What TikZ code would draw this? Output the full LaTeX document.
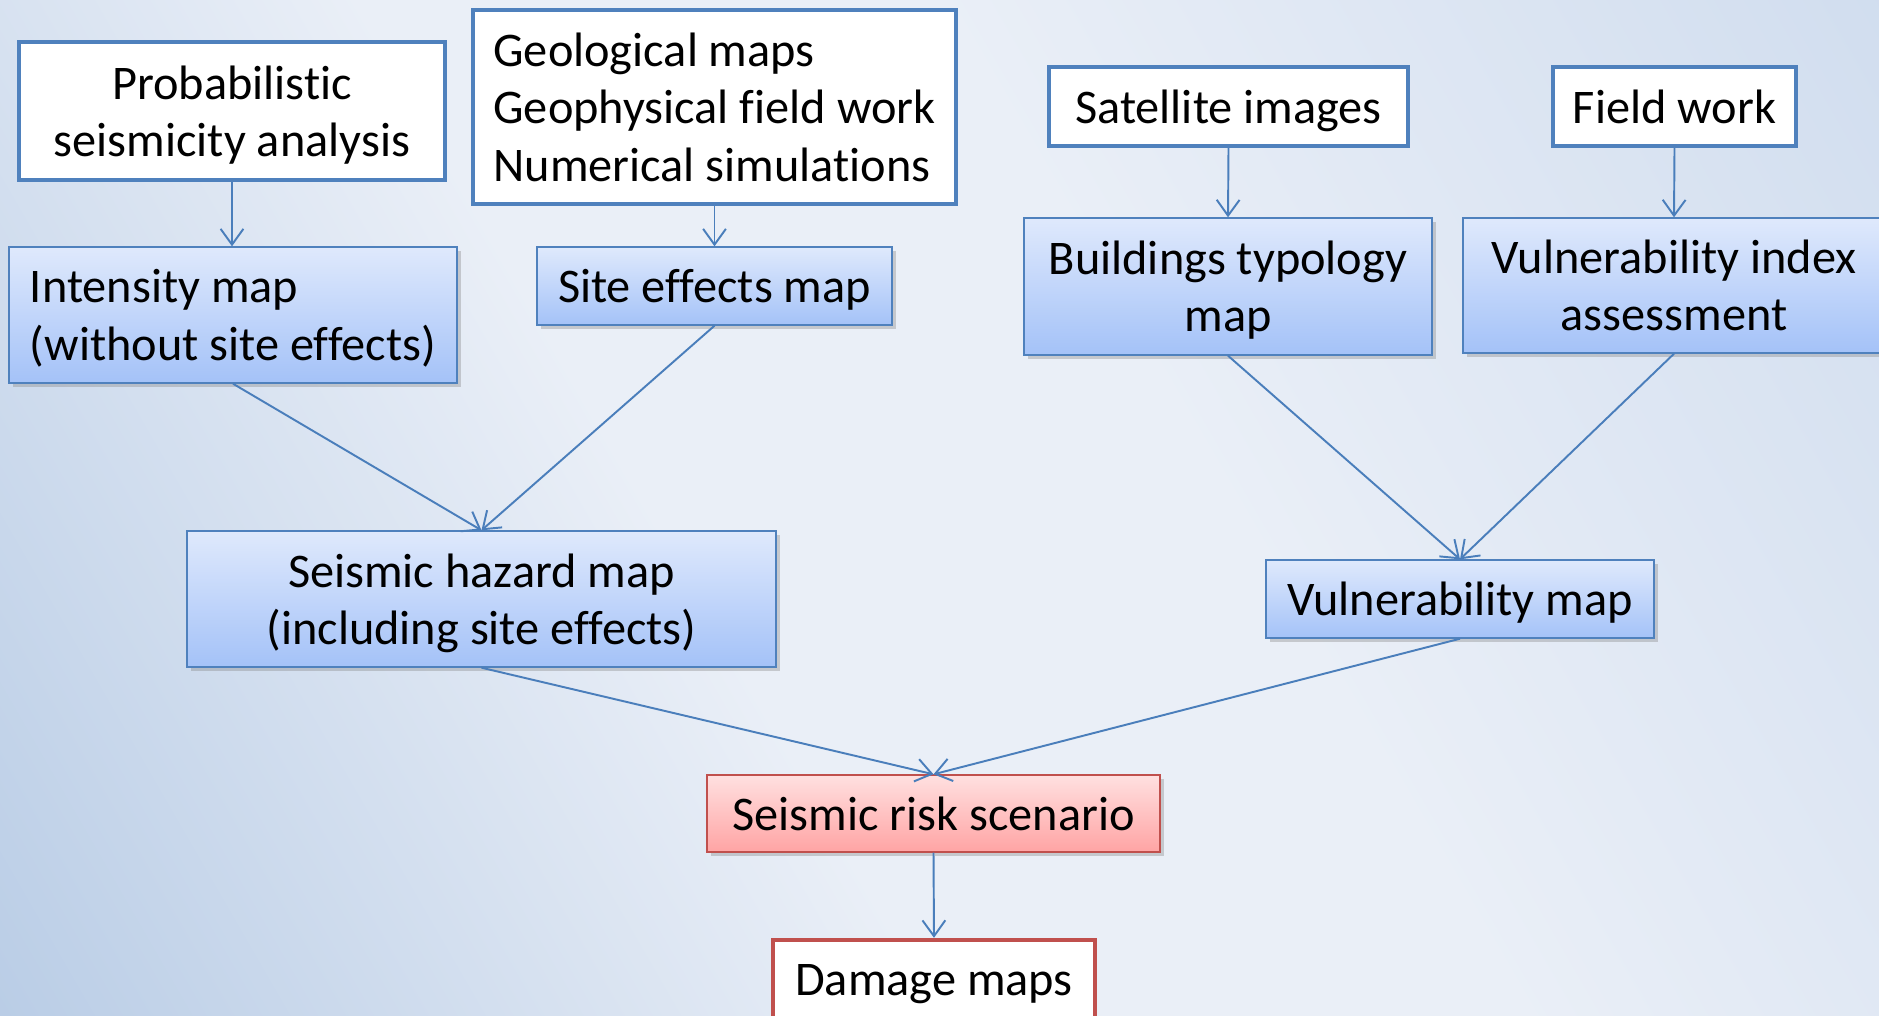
\documentclass[tikz,border=0pt]{standalone}
\usepackage{fontspec}
\setmainfont{Carlito}[Ligatures=NoCommon]
\usepackage{xcolor}
\usetikzlibrary{positioning, shapes, arrows.meta, shadows}

\definecolor{boxblue}{HTML}{4F81BD}
\definecolor{boxred}{HTML}{C0504D}
\definecolor{arrowblue}{HTML}{4A7EBB}
\definecolor{maptop}{HTML}{DFE9FC}
\definecolor{mapbottom}{HTML}{A4C2F8}
\definecolor{risktop}{HTML}{FFE0E0}
\definecolor{riskbottom}{HTML}{FFA4A4}
\definecolor{bgdark}{HTML}{9DB9DC}
\definecolor{bglight}{HTML}{EAEFF7}
\definecolor{bgmid}{HTML}{C2D3EA}
\pgfdeclarehorizontalshading{slidebg}{100bp}{color(0bp)=(bgdark); color(42bp)=(bglight); color(58bp)=(bglight); color(100bp)=(bgmid)}

\begin{document}
\begin{tikzpicture}[
    x=0.02cm, y=-0.02cm,
    font=\fontsize{27.5}{32.6}\selectfont,
    % box sizes in pixels of the slide
    dims/.style 2 args={minimum width=#1*0.02cm, minimum height=#2*0.02cm},
    % input boxes (white, thick frame)
    inputbox/.style={
        rectangle,
        draw=boxblue,
        line width=2.5pt,
        fill=white,
        align=center,
        text depth=0pt,
        inner sep=2pt
    },
    % result boxes (blue gradient)
    mapbox/.style={
        rectangle,
        draw=boxblue,
        line width=0.8pt,
        top color=maptop,
        bottom color=mapbottom,
        drop shadow={opacity=0.35, shadow xshift=2pt, shadow yshift=-2pt},
        align=center,
        text depth=0pt,
        inner sep=2pt
    },
    riskbox/.style={mapbox, draw=boxred, top color=risktop, bottom color=riskbottom},
    outputbox/.style={inputbox, draw=boxred},
    flow/.style={draw=arrowblue, line width=1.1pt, -{Straight Barb[length=9pt, width=13pt]}}
]

% Slide background
\useasboundingbox (0,0) rectangle (1879,1015);
\clip (0,0) rectangle (1879,1015);
\shade[shading=slidebg, shading angle=30] (0,0) rectangle (1879,1015);

% Top row: data sources
\node (prob)  at (232,111)    [inputbox, dims={426}{138}] {Probabilistic\\seismicity analysis};
\node (geo)   at (714.5,107)  [inputbox, dims={483}{194}, align=left] {Geological maps\\Geophysical field work\\Numerical simulations};
\node (sat)   at (1228.5,106.5) [inputbox, dims={359}{79}] {Satellite images};
\node (field) at (1674.5,106.5) [inputbox, dims={243}{79}] {Field work};

% Second row
\node (inten) at (233,315)    [mapbox, dims={448}{136}, align=left] {Intensity map\\(without site effects)};
\node (site)  at (714.5,286)  [mapbox, dims={355}{78}] {Site effects map};
\node (build) at (1228,286.5) [mapbox, dims={408}{137}] {Buildings typology\\map};
\node (vidx)  at (1674,285.5) [mapbox, dims={422}{135}] {Vulnerability index\\assessment};

% Third row
\node (hazard) at (481.5,599) [mapbox, dims={589}{136}] {Seismic hazard map\\(including site effects)};
\node (vmap)   at (1460,599)  [mapbox, dims={388}{78}] {Vulnerability map};

% Risk and damage
\node (risk)   at (933.5,813.5) [riskbox, dims={453}{77}] {Seismic risk scenario};
\node (damage) at (934,980)     [outputbox, dims={322}{80}] {Damage maps};

% Slide number
\node (slideno) at (1762,1032) [text=gray, font=\fontsize{18}{20}\selectfont] {10};

% Connectors
\draw[flow] (prob.south) -- (inten.north -| prob.south);
\draw[flow] (geo.south) -- (site.north);
\draw[flow] (sat.south) -- (build.north);
\draw[flow] (field.south) -- (vidx.north);
\draw[flow] (inten.south) -- (hazard.north);
\draw[flow] (site.south) -- (hazard.north);
\draw[flow] (build.south) -- (vmap.north);
\draw[flow] (vidx.south) -- (vmap.north);
\draw[flow] (hazard.south) -- (risk.north);
\draw[flow] (vmap.south) -- (risk.north);
\draw[flow] (risk.south) -- (damage.north);
\end{tikzpicture}
\end{document}
